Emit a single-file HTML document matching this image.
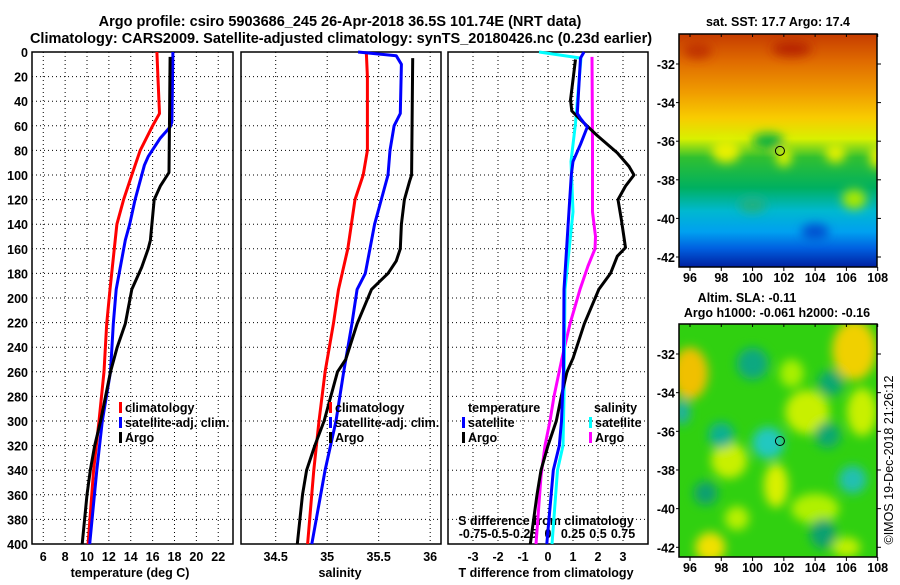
<!DOCTYPE html>
<html><head><meta charset="utf-8"><style>
html,body{margin:0;padding:0;background:#fff;}
svg text{font-family:"Liberation Sans",sans-serif;font-weight:bold;fill:#000;}
svg text.nb{font-weight:normal;}
</style></head><body>
<svg id="c" width="900" height="580" viewBox="0 0 900 580" xmlns="http://www.w3.org/2000/svg">
<defs>
<linearGradient id="sstg" x1="0" y1="0" x2="0" y2="1">
<stop offset="0" stop-color="#c63c00"/><stop offset="0.12" stop-color="#e06c00"/>
<stop offset="0.25" stop-color="#f09c00"/><stop offset="0.36" stop-color="#f8cc00"/>
<stop offset="0.45" stop-color="#d8f000"/><stop offset="0.53" stop-color="#30c030"/>
<stop offset="0.66" stop-color="#00b060"/><stop offset="0.76" stop-color="#00b8d0"/>
<stop offset="0.85" stop-color="#00a0f0"/><stop offset="0.92" stop-color="#0060e0"/>
<stop offset="1" stop-color="#0020a0"/></linearGradient>
<filter id="bl" x="-50%" y="-50%" width="200%" height="200%"><feGaussianBlur stdDeviation="5"/></filter>
<clipPath id="cm1"><rect x="679" y="34" width="198" height="233"/></clipPath>
<clipPath id="cm2"><rect x="679" y="324" width="198" height="233"/></clipPath>
</defs>
<text x="340" y="26" text-anchor="middle" font-size="14.5">Argo profile: csiro 5903686_245 26-Apr-2018 36.5S 101.74E (NRT data)</text>
<text x="341" y="43" text-anchor="middle" font-size="14.5">Climatology: CARS2009. Satellite-adjusted climatology: synTS_20180426.nc (0.23d earlier)</text>
<g id="g"></g>
</svg>
<script>
// depth axis
const depthTicks=[0,20,40,60,80,100,120,140,160,180,200,220,240,260,280,300,320,340,360,380,400];
// panel 1: temperature
const tTicks=[6,8,10,12,14,16,18,20,22];
const tClimD=[0,20,50,60,80,100,120,140,153,193,221,260,300,340,400];
const tClim=[16.39,16.48,16.63,16.0,14.86,14.1,13.35,12.73,12.58,12.1,11.8,11.55,11.1,10.6,10.1];
const tSatD=[0,57,61,70,85,92,120,140,153,193,221,260,300,340,400];
const tSat=[17.85,17.76,17.6,16.7,15.6,15.25,14.4,13.9,13.5,12.67,12.4,12.15,11.4,10.9,10.25];
const tArgoD=[4,98,109,120,153,160,175,193,221,240,260,300,320,340,360,400];
const tArgo=[17.6,17.5,16.7,16.14,15.8,15.6,15.0,14.1,13.5,12.76,12.15,11.24,10.7,10.3,10.0,9.56];
// panel 2: salinity
const sTicks=[34.5,35,35.5,36];
const sClimD=[0,20,80,100,120,160,193,221,260,300,340,400];
const sClim=[35.38,35.39,35.39,35.35,35.27,35.2,35.11,35.06,34.98,34.92,34.87,34.81];
const sSatD=[0,3,10,50,60,80,100,140,180,193,221,260,300,340,400];
const sSat=[35.3,35.67,35.72,35.71,35.65,35.61,35.59,35.46,35.37,35.29,35.24,35.16,35.085,34.98,34.85];
const sArgoD=[5,100,105,120,140,160,170,180,193,221,250,260,300,320,340,360,400];
const sArgo=[35.83,35.82,35.8,35.75,35.72,35.71,35.67,35.59,35.43,35.29,35.18,35.1,34.97,34.88,34.8,34.76,34.71];
// panel 3: differences
const dTicks=[-3,-2,-1,0,1,2,3];
const dsTickLabels=["-0.75","-0.5","-0.25","0","0.25","0.5","0.75"];
const dtSatD=[0,5,50,54,61,75,89,100,193,260,300,320,340,400];
const dtSat=[1.44,1.3,1.17,1.3,1.57,1.3,1.0,0.93,0.64,0.62,0.54,0.45,0.21,-0.05];
const dtArgoD=[6,39,48,55,68,82,93,100,109,120,136,159,166,180,193,221,249,260,280,300,320,340,360,400];
const dtArgo=[1.1,0.9,0.95,1.3,1.97,2.77,3.24,3.44,3.1,2.8,2.93,3.1,2.77,2.5,2.03,1.45,1.0,0.76,0.53,0.33,0,-0.28,-0.44,-0.71];
const dsSatD=[0,5,43,58,89,130,193,280,320,340,400];
const dsSat=[-0.09,0.33,0.29,0.275,0.23,0.25,0.17,0.16,0.15,0.095,0.04];
const dsArgoD=[4,75,130,150,160,174,193,221,249,280,300,320,345,400];
const dsArgo=[0.44,0.445,0.445,0.475,0.47,0.4,0.32,0.22,0.14,0.06,0.02,-0.03,-0.07,-0.12];
// maps
const lonTicks=[96,98,100,102,104,106,108];
const latTicks=[-32,-34,-36,-38,-40,-42];
const floatLon=101.75, floatLat=-36.5;

const NS="http://www.w3.org/2000/svg";
const G=document.getElementById('g');
function el(t,a,p){const e=document.createElementNS(NS,t);for(const k in a)e.setAttribute(k,a[k]);(p||G).appendChild(e);return e;}
const Y0=52,Y1=544;
const yD=d=>Y0+(d/400)*(Y1-Y0);
const panels=[{x0:32,x1:233,lo:4.97,hi:23.35},{x0:241,x1:441,lo:34.163,hi:36.105},{x0:448,x1:648,lo:-4,hi:4}];
const xf=p=>v=>p.x0+(v-p.lo)/(p.hi-p.lo)*(p.x1-p.x0);
function grid(p,ticks,name){
  const X=xf(p);
  ticks.forEach(v=>{const l=el('line',{x1:X(v),x2:X(v),y1:Y0,y2:Y1,stroke:'#000','stroke-width':1,'stroke-dasharray':'1 3'});
    
    });
  depthTicks.slice(1,-1).forEach(d=>{const l=el('line',{x1:p.x0,x2:p.x1,y1:yD(d),y2:yD(d),stroke:'#000','stroke-width':1,'stroke-dasharray':'1 3'});
    
    });
  const r=el('rect',{x:p.x0,y:Y0,width:p.x1-p.x0,height:Y1-Y0,fill:'none',stroke:'#000','stroke-width':1.5});
  
  
}
function line(p,D,V,col,name,scale){
  const X=xf(p);scale=scale||1;
  const pts=D.map((d,i)=>X(V[i]*scale).toFixed(1)+','+yD(d).toFixed(1)).join(' ');
  const l=el('polyline',{points:pts,fill:'none',stroke:col,'stroke-width':3,'stroke-linejoin':'round'});
  
  
}
function txt(x,y,s,fs,anchor,name){const t=el('text',{x:x,y:y,'font-size':fs,'text-anchor':anchor||'start'});t.textContent=s;
  
  return t;}
function legend(x,y,col,label,name){
  const r=el('rect',{x:x,y:y-10,width:3,height:11,fill:col});
  
  
  txt(x+6,y,label,12.5,'start',name+'-label');
}
grid(panels[0],tTicks,'temperature-panel');
grid(panels[1],sTicks,'salinity-panel');
grid(panels[2],dTicks,'difference-panel');
depthTicks.forEach(d=>txt(28,yD(d)+5,String(d),12.5,'end','depth-tick-label'));
let X=xf(panels[0]);tTicks.forEach(v=>txt(X(v),561,String(v),12.5,'middle','temperature-tick-label'));
X=xf(panels[1]);sTicks.forEach(v=>txt(X(v),561,String(v),12.5,'middle','salinity-tick-label'));
X=xf(panels[2]);dTicks.forEach(v=>txt(X(v),561,String(v),12.5,'middle','t-diff-tick-label'));
dsTickLabels.forEach((s,i)=>txt(X(dTicks[i]),538,s,12.5,'middle','s-diff-tick-label'));
txt(130,577,'temperature (deg C)',12.5,'middle','temperature-axis-title');
txt(340,577,'salinity',12.5,'middle','salinity-axis-title');
txt(546,577,'T difference from climatology',12.5,'middle','t-diff-axis-title');
txt(546,525,'S difference from climatology',12.5,'middle','s-diff-axis-title');
line(panels[0],tClimD,tClim,'#ff0000','temperature-climatology-line');
line(panels[0],tSatD,tSat,'#0000ff','temperature-satellite-line');
line(panels[0],tArgoD,tArgo,'#000','temperature-argo-line');
line(panels[1],sClimD,sClim,'#ff0000','salinity-climatology-line');
line(panels[1],sSatD,sSat,'#0000ff','salinity-satellite-line');
line(panels[1],sArgoD,sArgo,'#000','salinity-argo-line');
line(panels[2],dsArgoD,dsArgo,'#ff00ff','s-diff-argo-line',4);
line(panels[2],dsSatD,dsSat,'#00ffff','s-diff-satellite-line',4);
line(panels[2],dtArgoD,dtArgo,'#000','t-diff-argo-line');
line(panels[2],dtSatD,dtSat,'#0000ff','t-diff-satellite-line');
legend(119,412,'#ff0000','climatology','temp-legend-climatology');
legend(119,427,'#0000ff','satellite-adj. clim.','temp-legend-satellite');
legend(119,442,'#000','Argo','temp-legend-argo');
legend(329,412,'#ff0000','climatology','sal-legend-climatology');
legend(329,427,'#0000ff','satellite-adj. clim.','sal-legend-satellite');
legend(329,442,'#000','Argo','sal-legend-argo');
txt(468,412,'temperature',12.5,'start','diff-legend-temperature-heading');
legend(462,427,'#0000ff','satellite','diff-legend-t-satellite');
legend(462,442,'#000','Argo','diff-legend-t-argo');
txt(594,412,'salinity',12.5,'start','diff-legend-salinity-heading');
legend(589,427,'#00ffff','satellite','diff-legend-s-satellite');
legend(589,442,'#ff00ff','Argo','diff-legend-s-argo');

// maps
const lonX=v=>690+(v-96)*15.64;
function map(y0,latY,clip,name,fill){
  const g=el('g',{'clip-path':'url(#'+clip+')'});
  
  
  fill(g);
  const r=el('rect',{x:679,y:y0,width:198,height:233,fill:'none',stroke:'#000','stroke-width':1.5});
  
  
  lonTicks.forEach(v=>{txt(lonX(v),y0+248,String(v),12.5,'middle',name+'-lon-label');
    el('line',{x1:lonX(v),x2:lonX(v),y1:y0+233,y2:y0+237,stroke:'#000'});el('line',{x1:lonX(v),x2:lonX(v),y1:y0,y2:y0+3,stroke:'#000'});});
  latTicks.forEach(v=>{txt(675,latY(v)+5,String(v),12.5,'end',name+'-lat-label');
    el('line',{x1:676,x2:679,y1:latY(v),y2:latY(v),stroke:'#000'});el('line',{x1:877,x2:881,y1:latY(v),y2:latY(v),stroke:'#000'});});
  const c=el('circle',{cx:lonX(floatLon),cy:latY(floatLat),r:4.5,fill:'none',stroke:'#000','stroke-width':1});
  
  
}
const lat1=v=>64+(-32-v)*19.3, lat2=v=>354+(-32-v)*19.33;
map(34,lat1,'cm1','sst-map',g=>{
  el('rect',{x:679,y:34,width:198,height:233,fill:'url(#sstg)'},g);
  const bg=el('g',{filter:'url(#bl)'},g);
  [[98.3,-36.5,14,12,'#e8f000'],[102,-36.8,8,10,'#d8f000'],[105.3,-36.6,10,10,'#e0f000'],[108,-36.8,8,12,'#e8f000'],
   [101,-36,16,8,'#10b040'],[106.5,-39,12,10,'#a8e800'],[102.5,-31.2,20,8,'#b82800'],[96.5,-31.3,14,8,'#c03000'],
   [100,-39.3,14,8,'#20b080'],[104,-40.7,14,8,'#0050d0']].forEach(b=>
    el('ellipse',{cx:lonX(b[0]),cy:lat1(b[1]),rx:b[2],ry:b[3],fill:b[4]},bg));
});
map(324,lat2,'cm2','sla-map',g=>{
  el('rect',{x:679,y:324,width:198,height:233,fill:'#30d010'},g);
  const bg=el('g',{filter:'url(#bl)'},g);
  [[96,-33,18,26,'#f0c000'],[106.5,-31.8,22,30,'#f0d000'],[103.5,-35,22,22,'#c8f000'],[98.5,-37.5,18,18,'#c8f000'],
   [101.5,-38.8,12,22,'#d8f000'],[97.3,-42,15,15,'#f0e000'],[104,-40,24,15,'#b0f000'],[107,-35,15,24,'#c8f000'],
   [99,-40.5,12,12,'#b8f000'],[102.5,-33,12,14,'#a8f000'],[106,-42,14,10,'#c0f000'],
   [100,-32.5,16,16,'#10a880'],[101,-36.6,16,16,'#20c8c0'],[98,-36.2,13,13,'#10b090'],[106.4,-38.5,14,14,'#20c0b0'],
   [104.5,-41.3,13,15,'#10a070'],[97,-39.2,12,12,'#10a070'],[105,-33.5,13,13,'#10a870'],[95.5,-35,8,13,'#20b0a0'],[104.8,-36.2,13,13,'#10a870']].forEach(b=>
    el('ellipse',{cx:lonX(b[0]),cy:lat2(b[1]),rx:b[2],ry:b[3],fill:b[4]},bg));
});
txt(778,26,'sat. SST: 17.7 Argo: 17.4',12.5,'middle','sst-map-title');
txt(747,302,'Altim. SLA: -0.11',12.5,'middle','sla-map-title');
txt(777,317,'Argo h1000: -0.061 h2000: -0.16',12.5,'middle','sla-map-subtitle');
const st=txt(0,0,'©IMOS 19-Dec-2018 21:26:12',12.5,'middle','timestamp');
st.setAttribute('class','nb');st.setAttribute('transform','translate(893,460) rotate(-90)');
</script>
</body></html>
